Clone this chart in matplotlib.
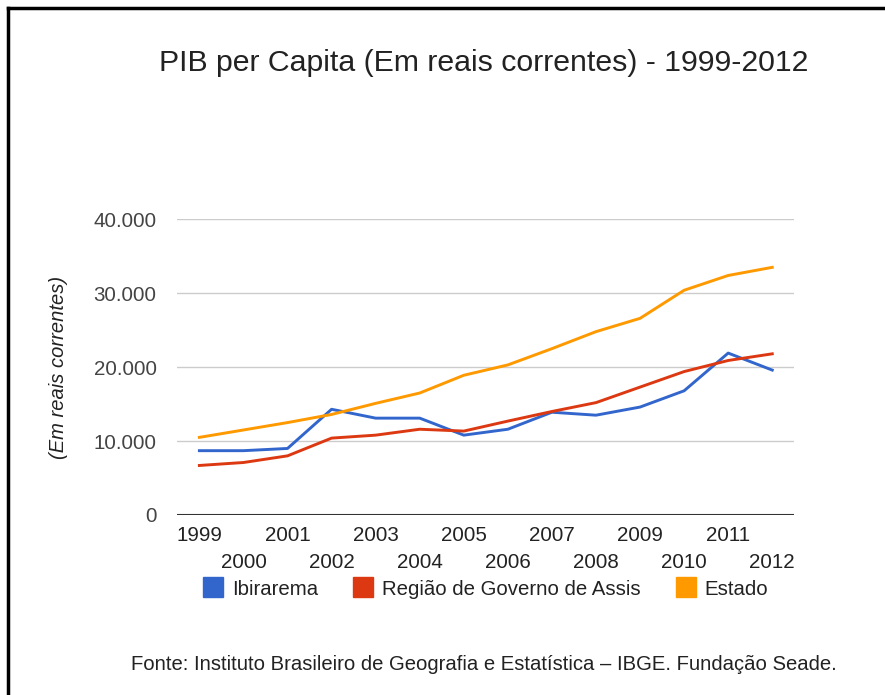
import matplotlib
matplotlib.use("Agg")
import matplotlib.pyplot as plt
from matplotlib.lines import Line2D
import numpy as np

# Dados (PIB per capita, em reais correntes)
anos = [1999, 2000, 2001, 2002, 2003, 2004, 2005, 2006, 2007, 2008, 2009, 2010, 2011, 2012]
ibirarema = [8700, 8700, 9000, 14300, 13100, 13100, 10800, 11600, 13900, 13500, 14600, 16800, 21900, 19600]
regiao_assis = [6700, 7100, 8000, 10400, 10800, 11600, 11350, 12700, 14000, 15200, 17300, 19400, 20900, 21800]
estado = [10500, 11500, 12500, 13600, 15100, 16500, 18900, 20300, 22500, 24800, 26600, 30400, 32400, 33500]
series_nomes = ["Ibirarema", "Região de Governo de Assis", "Estado"]
cores = ["#3366cc", "#dc3912", "#ff9900"]
y_ticks = [0, 10000, 20000, 30000, 40000]
y_labels = ["0", "10.000", "20.000", "30.000", "40.000"]

plt.rcParams['font.family'] = ['Liberation Sans', 'DejaVu Sans']

fig = plt.figure(figsize=(8.85, 6.95), dpi=100)
ax = fig.add_axes([0.2004, 0.259, 0.6971, 0.4255])

x = np.arange(len(anos))
for vals, cor in zip([ibirarema, regiao_assis, estado], cores):
    ax.plot(x, vals, color=cor, linewidth=2.1, solid_joinstyle='round')

ax.set_xlim(-0.5, len(anos) - 0.5)
ax.set_ylim(0, 40000)
ax.set_yticks(y_ticks)
ax.set_yticklabels(y_labels, fontsize=14.8, color='#444444')
for t in y_ticks[1:]:
    ax.axhline(t, color='#cccccc', linewidth=1, zorder=0)
ax.axhline(0, color='#333333', linewidth=1.5, zorder=3)
ax.tick_params(axis='y', length=0, pad=15)
ax.set_xticks([])
for s in ax.spines.values():
    s.set_visible(False)

# rótulos do eixo x em duas linhas alternadas
for i, ano in enumerate(anos):
    dy = -0.068 if i % 2 == 0 else -0.159
    ax.text(i, dy, str(ano), transform=ax.get_xaxis_transform(), ha='center', va='center',
            fontsize=14.8, color='#222222')

ax.set_ylabel("(Em reais correntes)", fontsize=14.5, style='italic', color='#222222', labelpad=18)

fig.text(0.547, 0.909, "PIB per Capita (Em reais correntes) - 1999-2012", ha='center', va='center',
         fontsize=21.8, color='#222222')

handles = [Line2D([], [], marker='s', linestyle='none', markersize=14.4, color=c) for c in cores]
fig.legend(handles, series_nomes, loc='center left', bbox_to_anchor=(0.2085, 0.1525), ncol=3,
           frameon=False, fontsize=14.7, handlelength=1.0, handletextpad=0.42, columnspacing=1.72,
           labelcolor='#222222')

fig.text(0.547, 0.0446, "Fonte: Instituto Brasileiro de Geografia e Estatística – IBGE. Fundação Seade.",
         ha='center', va='center', fontsize=14.6, color='#222222')

# moldura preta (topo e esquerda)
fig.add_artist(Line2D([0.009, 1.0], [0.988, 0.988], transform=fig.transFigure, color='black', linewidth=2.5))
fig.add_artist(Line2D([0.009, 0.009], [0.0, 0.988], transform=fig.transFigure, color='black', linewidth=2.5))

fig.savefig("out.png", dpi=100)
